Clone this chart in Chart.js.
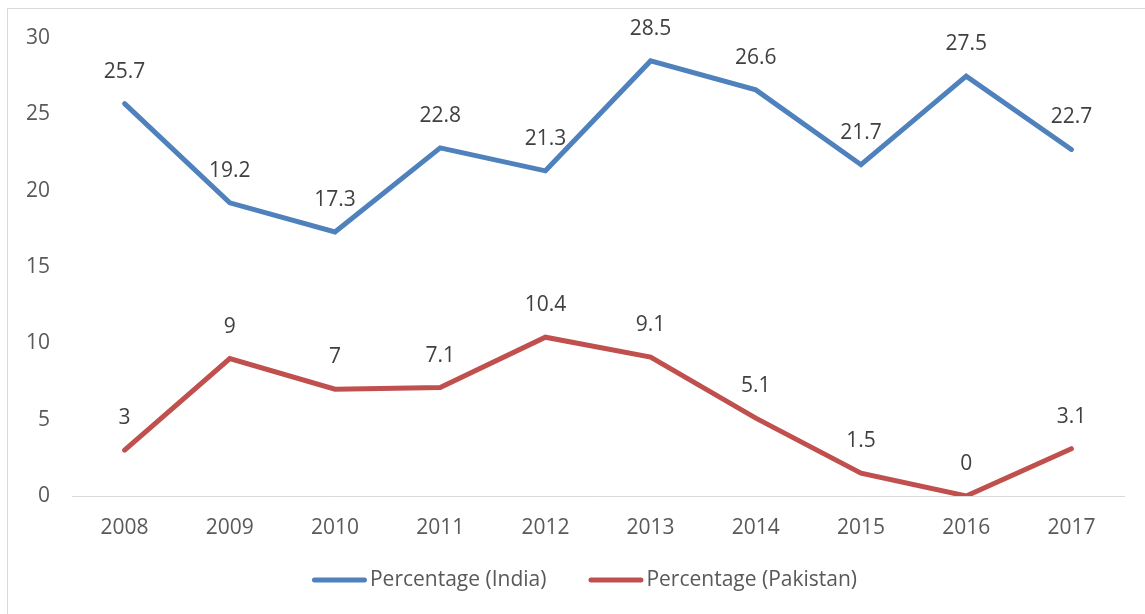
<!DOCTYPE html>
<html>
<head>
<meta charset="utf-8">
<script src="https://cdn.jsdelivr.net/npm/chart.js@4/dist/chart.umd.min.js"></script>
<style>
html,body{margin:0;padding:0;background:#fff;}
#wrap{width:1145px;height:614px;position:relative;}
</style>
</head>
<body>
<div id="wrap"><canvas id="c" width="1145" height="614"></canvas></div>
<script>
const years = ['2008','2009','2010','2011','2012','2013','2014','2015','2016','2017'];
const india = [25.7, 19.2, 17.3, 22.8, 21.3, 28.5, 26.6, 21.7, 27.5, 22.7];
const pakistan = [3, 9, 7, 7.1, 10.4, 9.1, 5.1, 1.5, 0, 3.1];
const seriesNames = ['Percentage (India)', 'Percentage (Pakistan)'];
const seriesColors = ['#4F81BD', '#C0504D'];
const yTicks = [0, 5, 10, 15, 20, 25, 30];

const FONT = '"Open Sans", "Liberation Sans", sans-serif';
const FS = 21;

const framePlugin = {
  id: 'frame',
  beforeDraw(chart) {
    const ctx = chart.ctx;
    ctx.save();
    ctx.fillStyle = '#fff';
    ctx.fillRect(0, 0, chart.width, chart.height);
    ctx.strokeStyle = '#d9d9d9';
    ctx.lineWidth = 1;
    ctx.strokeRect(7.5, 8.5, 1160, 620);
    ctx.restore();
  }
};

const labelPlugin = {
  id: 'valueLabels',
  afterDatasetsDraw(chart) {
    const ctx = chart.ctx;
    ctx.save();
    ctx.font = FS + 'px ' + FONT;
    ctx.fillStyle = '#404040';
    ctx.textAlign = 'center';
    ctx.textBaseline = 'middle';
    chart.data.datasets.forEach((ds, i) => {
      const meta = chart.getDatasetMeta(i);
      meta.data.forEach((pt, j) => {
        ctx.fillText(String(ds.data[j]), pt.x, pt.y - 32);
      });
    });
    ctx.restore();
  }
};

const legendPlugin = {
  id: 'bottomLegend',
  afterDraw(chart) {
    const ctx = chart.ctx;
    ctx.save();
    ctx.font = FS + 'px ' + FONT;
    ctx.textBaseline = 'middle';
    const lineLen = 55, gapTxt = 3, gapItem = 42, y = 580;
    const items = chart.data.datasets.map(ds => ({label: ds.label, color: ds.borderColor, w: ctx.measureText(ds.label).width}));
    let total = 0;
    items.forEach((it, i) => { total += lineLen + gapTxt + it.w + (i ? gapItem : 0); });
    let x = 584.5 - total / 2;
    items.forEach((it, i) => {
      if (i) x += gapItem;
      ctx.strokeStyle = it.color;
      ctx.lineWidth = 5;
      ctx.lineCap = 'round';
      ctx.beginPath();
      ctx.moveTo(x + 2.5, y);
      ctx.lineTo(x + lineLen - 2.5, y);
      ctx.stroke();
      x += lineLen + gapTxt;
      ctx.fillStyle = '#595959';
      ctx.textAlign = 'left';
      ctx.fillText(it.label, x, y);
      x += it.w;
    });
    ctx.restore();
  }
};

new Chart(document.getElementById('c'), {
  type: 'line',
  data: {
    labels: years,
    datasets: [
      {label: seriesNames[0], data: india, borderColor: seriesColors[0], backgroundColor: seriesColors[0]},
      {label: seriesNames[1], data: pakistan, borderColor: seriesColors[1], backgroundColor: seriesColors[1]}
    ]
  },
  options: {
    responsive: false,
    animation: false,
    devicePixelRatio: 1,
    layout: {padding: {top: 38, right: 21, bottom: 0, left: 0}},
    elements: {
      line: {borderWidth: 5, tension: 0, borderCapStyle: 'round', borderJoinStyle: 'miter', fill: false},
      point: {radius: 0, hoverRadius: 0}
    },
    plugins: {legend: {display: false}, tooltip: {enabled: false}},
    scales: {
      x: {
        offset: true,
        grid: {display: false, drawTicks: false},
        border: {display: true, color: '#d9d9d9', width: 1},
        ticks: {color: '#595959', font: {family: FONT, size: FS}, padding: 19, maxRotation: 0},
        afterFit(s) { s.height = 118; }
      },
      y: {
        min: 0, max: 30,
        afterBuildTicks(s) { s.ticks = yTicks.map(v => ({value: v})); },
        grid: {display: false, drawTicks: false},
        border: {display: false},
        ticks: {color: '#595959', font: {family: FONT, size: FS}, padding: 22},
        afterFit(s) { s.width = 72; }
      }
    }
  },
  plugins: [framePlugin, labelPlugin, legendPlugin]
});
</script>
</body>
</html>
